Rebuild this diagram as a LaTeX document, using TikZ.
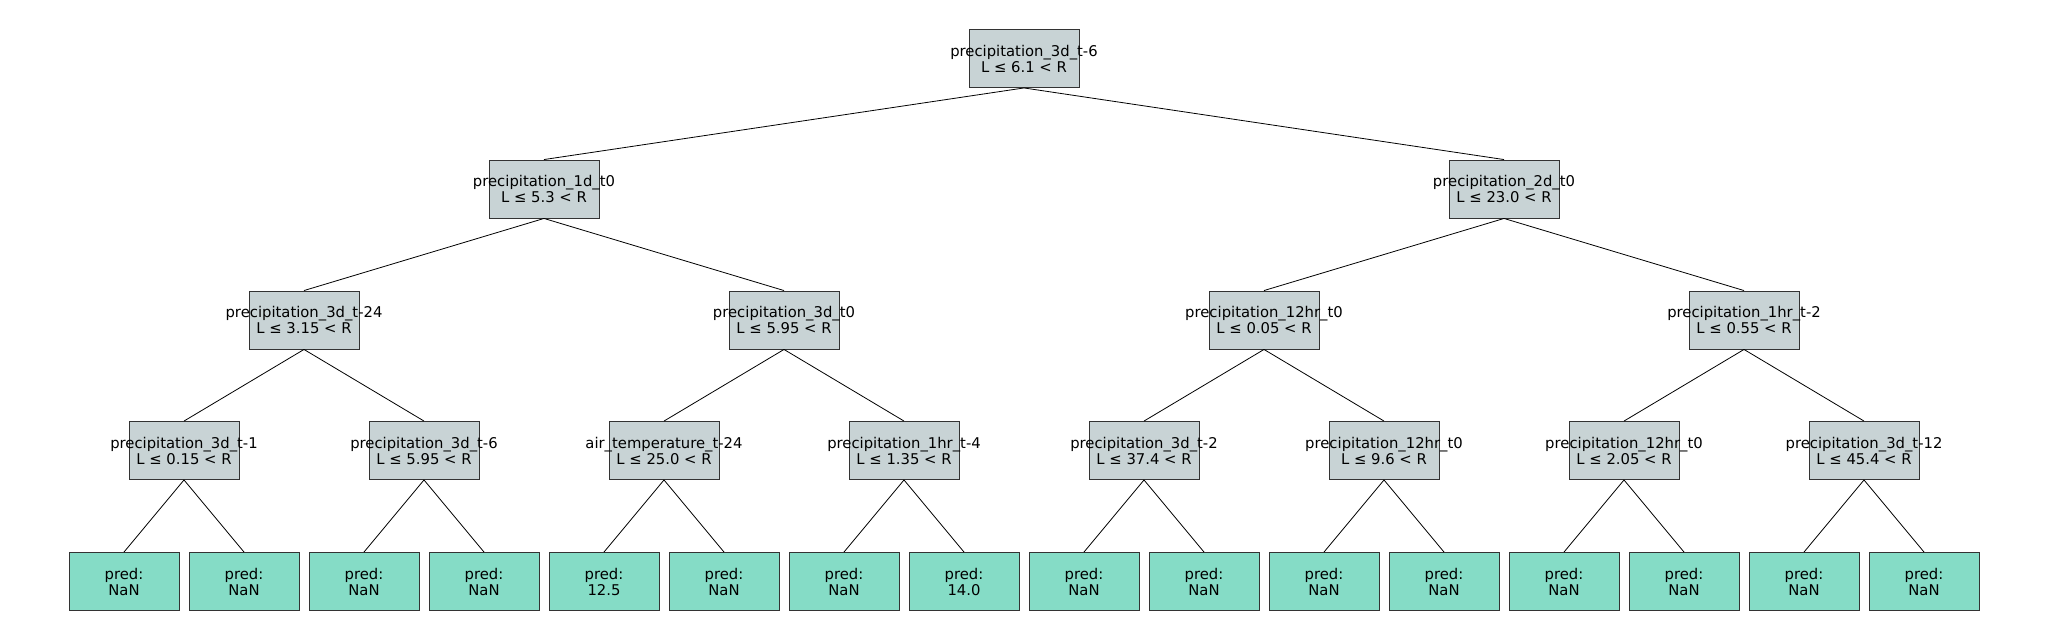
\documentclass[tikz,border=0pt]{standalone}
\usepackage{fontspec}
\setmainfont{DejaVu Sans}
\definecolor{splitgray}{HTML}{C8D3D5}
\definecolor{leafgreen}{HTML}{85DCC6}
\definecolor{boxedge}{HTML}{333333}
\newcommand{\twolines}[2]{\makebox[0pt]{#1}\\\makebox[0pt]{#2}}
\begin{document}
\begin{tikzpicture}[
        x=1pt, y=-1pt,
        splitnode/.style={
            draw=boxedge, fill=splitgray, line width=0.9pt,
            minimum width=110pt, minimum height=58pt, inner sep=0pt,
            align=center, font=\fontsize{14.8}{16}\selectfont
        },
        leafnode/.style={
            splitnode, fill=leafgreen
        }
    ]
    \useasboundingbox (0, 0) rectangle (2048, 640);
    \node[splitnode] (R) at (1024, 58.5) {\twolines{precipitation\_3d\_t-6}{L ≤ 6.1 < R}};

    \node[splitnode] (A) at (544, 189) {\twolines{precipitation\_1d\_t0}{L ≤ 5.3 < R}};
    \node[splitnode] (B) at (1504, 189) {\twolines{precipitation\_2d\_t0}{L ≤ 23.0 < R}};

    \node[splitnode] (AA) at (304, 320) {\twolines{precipitation\_3d\_t-24}{L ≤ 3.15 < R}};
    \node[splitnode] (AB) at (784, 320) {\twolines{precipitation\_3d\_t0}{L ≤ 5.95 < R}};
    \node[splitnode] (BA) at (1264, 320) {\twolines{precipitation\_12hr\_t0}{L ≤ 0.05 < R}};
    \node[splitnode] (BB) at (1744, 320) {\twolines{precipitation\_1hr\_t-2}{L ≤ 0.55 < R}};

    \node[splitnode] (AAA) at (184, 450.5) {\twolines{precipitation\_3d\_t-1}{L ≤ 0.15 < R}};
    \node[splitnode] (AAB) at (424, 450.5) {\twolines{precipitation\_3d\_t-6}{L ≤ 5.95 < R}};
    \node[splitnode] (ABA) at (664, 450.5) {\twolines{air\_temperature\_t-24}{L ≤ 25.0 < R}};
    \node[splitnode] (ABB) at (904, 450.5) {\twolines{precipitation\_1hr\_t-4}{L ≤ 1.35 < R}};
    \node[splitnode] (BAA) at (1144, 450.5) {\twolines{precipitation\_3d\_t-2}{L ≤ 37.4 < R}};
    \node[splitnode] (BAB) at (1384, 450.5) {\twolines{precipitation\_12hr\_t0}{L ≤ 9.6 < R}};
    \node[splitnode] (BBA) at (1624, 450.5) {\twolines{precipitation\_12hr\_t0}{L ≤ 2.05 < R}};
    \node[splitnode] (BBB) at (1864, 450.5) {\twolines{precipitation\_3d\_t-12}{L ≤ 45.4 < R}};

    \node[leafnode] (L1) at (124, 581.5) {pred:\\NaN};
    \node[leafnode] (L2) at (244, 581.5) {pred:\\NaN};
    \node[leafnode] (L3) at (364, 581.5) {pred:\\NaN};
    \node[leafnode] (L4) at (484, 581.5) {pred:\\NaN};
    \node[leafnode] (L5) at (604, 581.5) {pred:\\12.5};
    \node[leafnode] (L6) at (724, 581.5) {pred:\\NaN};
    \node[leafnode] (L7) at (844, 581.5) {pred:\\NaN};
    \node[leafnode] (L8) at (964, 581.5) {pred:\\14.0};
    \node[leafnode] (L9) at (1084, 581.5) {pred:\\NaN};
    \node[leafnode] (L10) at (1204, 581.5) {pred:\\NaN};
    \node[leafnode] (L11) at (1324, 581.5) {pred:\\NaN};
    \node[leafnode] (L12) at (1444, 581.5) {pred:\\NaN};
    \node[leafnode] (L13) at (1564, 581.5) {pred:\\NaN};
    \node[leafnode] (L14) at (1684, 581.5) {pred:\\NaN};
    \node[leafnode] (L15) at (1804, 581.5) {pred:\\NaN};
    \node[leafnode] (L16) at (1924, 581.5) {pred:\\NaN};

    % edges
    \begin{scope}[line width=0.8pt]
    \draw (R.south) -- (A.north);
    \draw (R.south) -- (B.north);
    \draw (A.south) -- (AA.north);
    \draw (A.south) -- (AB.north);
    \draw (B.south) -- (BA.north);
    \draw (B.south) -- (BB.north);
    \draw (AA.south) -- (AAA.north);
    \draw (AA.south) -- (AAB.north);
    \draw (AB.south) -- (ABA.north);
    \draw (AB.south) -- (ABB.north);
    \draw (BA.south) -- (BAA.north);
    \draw (BA.south) -- (BAB.north);
    \draw (BB.south) -- (BBA.north);
    \draw (BB.south) -- (BBB.north);
    \draw (AAA.south) -- (L1.north);
    \draw (AAA.south) -- (L2.north);
    \draw (AAB.south) -- (L3.north);
    \draw (AAB.south) -- (L4.north);
    \draw (ABA.south) -- (L5.north);
    \draw (ABA.south) -- (L6.north);
    \draw (ABB.south) -- (L7.north);
    \draw (ABB.south) -- (L8.north);
    \draw (BAA.south) -- (L9.north);
    \draw (BAA.south) -- (L10.north);
    \draw (BAB.south) -- (L11.north);
    \draw (BAB.south) -- (L12.north);
    \draw (BBA.south) -- (L13.north);
    \draw (BBA.south) -- (L14.north);
    \draw (BBB.south) -- (L15.north);
    \draw (BBB.south) -- (L16.north);
    \end{scope}
\end{tikzpicture}
\end{document}
